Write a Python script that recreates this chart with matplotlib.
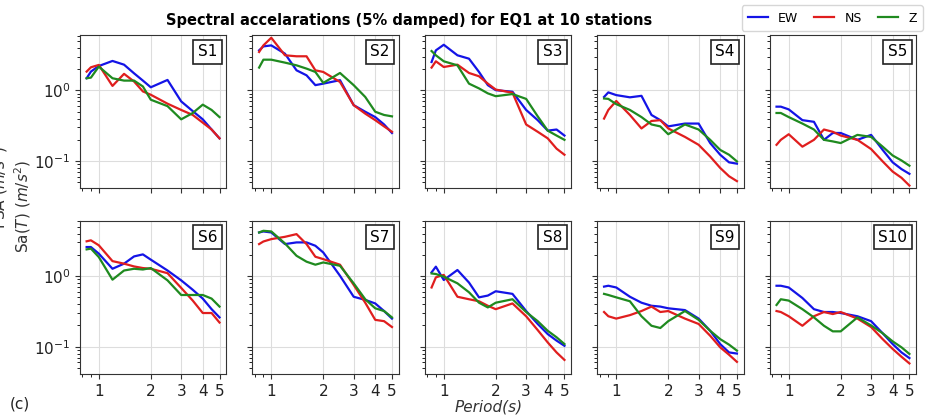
import numpy as np
import matplotlib
matplotlib.use("Agg")
import matplotlib.pyplot as plt
from matplotlib.ticker import FixedLocator, FixedFormatter, NullFormatter, LogLocator

periods = [0.85, 0.9, 1.0, 1.2, 1.4, 1.6, 1.8, 2.0, 2.5, 3.0, 3.5, 4.0, 4.5, 5.0]
stations = ["S1", "S2", "S3", "S4", "S5", "S6", "S7", "S8", "S9", "S10"]

ew = {
    "S1": [1.49, 1.85, 2.22, 2.62, 2.32, 1.75, 1.38, 1.11, 1.41, 0.70, 0.51, 0.39, 0.28, 0.21],
    "S2": [3.70, 4.21, 4.35, 3.32, 1.93, 1.64, 1.19, 1.25, 1.40, 0.62, 0.50, 0.42, 0.33, 0.25],
    "S3": [2.53, 3.70, 4.44, 3.15, 2.82, 1.83, 1.19, 1.01, 0.96, 0.53, 0.38, 0.27, 0.28, 0.23],
    "S4": [0.81, 0.94, 0.86, 0.80, 0.84, 0.45, 0.38, 0.31, 0.34, 0.34, 0.18, 0.123, 0.096, 0.092],
    "S5": [0.59, 0.59, 0.54, 0.38, 0.36, 0.20, 0.25, 0.25, 0.20, 0.235, 0.144, 0.096, 0.077, 0.066],
    "S6": [2.58, 2.58, 2.08, 1.27, 1.50, 1.90, 2.03, 1.71, 1.20, 0.87, 0.64, 0.48, 0.34, 0.26],
    "S7": [4.15, 4.29, 4.15, 2.84, 3.00, 3.00, 2.69, 2.16, 1.01, 0.51, 0.46, 0.41, 0.32, 0.25],
    "S8": [1.13, 1.36, 0.88, 1.22, 0.81, 0.50, 0.53, 0.61, 0.56, 0.32, 0.21, 0.151, 0.122, 0.103],
    "S9": [0.71, 0.73, 0.69, 0.51, 0.42, 0.38, 0.37, 0.35, 0.33, 0.25, 0.168, 0.109, 0.083, 0.080],
    "S10": [0.73, 0.73, 0.69, 0.49, 0.34, 0.31, 0.31, 0.30, 0.27, 0.23, 0.155, 0.109, 0.083, 0.069],
}
ns = {
    "S1": [1.85, 2.13, 2.30, 1.16, 1.72, 1.34, 0.97, 0.87, 0.65, 0.53, 0.45, 0.35, 0.28, 0.21],
    "S2": [3.51, 4.35, 5.58, 3.15, 3.05, 3.05, 1.93, 1.83, 1.32, 0.62, 0.47, 0.38, 0.31, 0.26],
    "S3": [2.11, 2.59, 2.15, 2.32, 1.77, 1.59, 1.25, 1.03, 0.93, 0.33, 0.26, 0.21, 0.15, 0.123],
    "S4": [0.40, 0.53, 0.71, 0.45, 0.29, 0.37, 0.38, 0.29, 0.22, 0.17, 0.116, 0.080, 0.061, 0.052],
    "S5": [0.17, 0.20, 0.24, 0.16, 0.20, 0.28, 0.26, 0.23, 0.20, 0.148, 0.099, 0.071, 0.058, 0.045],
    "S6": [3.11, 3.21, 2.73, 1.63, 1.50, 1.37, 1.30, 1.27, 1.10, 0.68, 0.45, 0.30, 0.30, 0.22],
    "S7": [2.84, 3.09, 3.34, 3.60, 3.93, 2.84, 1.88, 1.74, 1.45, 0.75, 0.42, 0.24, 0.23, 0.19],
    "S8": [0.69, 0.96, 1.04, 0.51, 0.47, 0.44, 0.38, 0.34, 0.41, 0.27, 0.172, 0.115, 0.083, 0.065],
    "S9": [0.31, 0.27, 0.25, 0.28, 0.32, 0.37, 0.31, 0.32, 0.25, 0.21, 0.143, 0.098, 0.077, 0.061],
    "S10": [0.32, 0.31, 0.27, 0.198, 0.27, 0.31, 0.29, 0.31, 0.25, 0.19, 0.128, 0.093, 0.072, 0.058],
}
z = {
    "S1": [1.49, 1.52, 2.18, 1.49, 1.38, 1.38, 1.14, 0.74, 0.60, 0.39, 0.48, 0.63, 0.53, 0.42],
    "S2": [2.11, 2.73, 2.73, 2.48, 2.27, 2.04, 1.83, 1.28, 1.77, 1.19, 0.81, 0.50, 0.45, 0.43],
    "S3": [3.62, 3.15, 2.59, 2.27, 1.25, 1.07, 0.91, 0.83, 0.89, 0.76, 0.43, 0.27, 0.23, 0.20],
    "S4": [0.77, 0.76, 0.64, 0.53, 0.42, 0.33, 0.31, 0.24, 0.33, 0.28, 0.20, 0.144, 0.123, 0.099],
    "S5": [0.48, 0.48, 0.42, 0.34, 0.28, 0.20, 0.19, 0.18, 0.235, 0.22, 0.16, 0.12, 0.102, 0.086],
    "S6": [2.39, 2.45, 1.86, 0.89, 1.20, 1.27, 1.24, 1.30, 0.87, 0.54, 0.54, 0.54, 0.48, 0.37],
    "S7": [4.15, 4.38, 4.29, 2.90, 1.94, 1.60, 1.45, 1.56, 1.40, 0.79, 0.47, 0.35, 0.32, 0.26],
    "S8": [1.09, 1.07, 0.98, 0.79, 0.59, 0.42, 0.36, 0.42, 0.47, 0.31, 0.23, 0.168, 0.136, 0.109],
    "S9": [0.56, 0.54, 0.50, 0.44, 0.27, 0.198, 0.184, 0.23, 0.32, 0.24, 0.168, 0.128, 0.107, 0.088],
    "S10": [0.39, 0.47, 0.45, 0.34, 0.26, 0.198, 0.165, 0.165, 0.26, 0.20, 0.155, 0.119, 0.098, 0.079],
}
x_ticks = [1, 2, 3, 4, 5]
x_tick_labels = ["1", "2", "3", "4", "5"]
colors = {"EW": "#1414e6", "NS": "#e01e1e", "Z": "#1f8a1f"}

fig, axes = plt.subplots(2, 5, figsize=(9.3, 4.17), dpi=100, sharex=True, sharey=True)
fig.subplots_adjust(left=0.086, right=0.985, top=0.916, bottom=0.103, wspace=0.18, hspace=0.21)

handles = []
for ax, st in zip(axes.flat, stations):
    for name, data in (("EW", ew), ("NS", ns), ("Z", z)):
        h, = ax.plot(periods, data[st], color=colors[name], lw=1.6, label=name)
        if st == "S1":
            handles.append(h)
    ax.set_xscale("log")
    ax.set_yscale("log")
    ax.xaxis.set_major_locator(FixedLocator(x_ticks))
    ax.xaxis.set_major_formatter(FixedFormatter(x_tick_labels))
    ax.xaxis.set_minor_locator(LogLocator(base=10, subs=np.arange(2, 10)))
    ax.xaxis.set_minor_formatter(NullFormatter())
    ax.grid(True, which="major", color="#dddddd", lw=0.8)
    ax.tick_params(labelsize=11, colors="#333333", labelcolor="#222222")
    ax.text(0.94, 0.94, st, transform=ax.transAxes, ha="right", va="top", fontsize=11,
            bbox=dict(boxstyle="square,pad=0.3", fc="white", ec="#222222", lw=1.2))
    for s in ax.spines.values():
        s.set_color("#333333")

axes[0, 0].set_ylim(0.041, 6.1)

fig.text(0.44, 0.952, "Spectral accelarations (5% damped) for EQ1 at 10 stations",
         ha="center", va="center", fontsize=10.5, fontweight="bold")
fig.legend(handles, ["EW", "NS", "Z"], loc="upper right", ncol=3,
           bbox_to_anchor=(0.995, 0.993), fontsize=9, frameon=True,
           handlelength=1.6, columnspacing=1.3, borderaxespad=0.2, borderpad=0.5)
fig.text(0.024, 0.505, "Sa($T$) ($m/s^2$)", rotation=90, ha="center", va="center", fontsize=11,
         color="#333333")
fig.text(0.0, 0.55, "PSA ($m/s^2$)", rotation=90, ha="center", va="center", fontsize=11,
         color="#333333")
fig.text(0.525, 0.025, "Period(s)", ha="center", va="center", fontsize=11, style="italic",
         color="#333333")
fig.text(0.011, 0.03, "(c)", ha="left", va="center", fontsize=11, color="#222222")

fig.savefig("out.png", dpi=100)
